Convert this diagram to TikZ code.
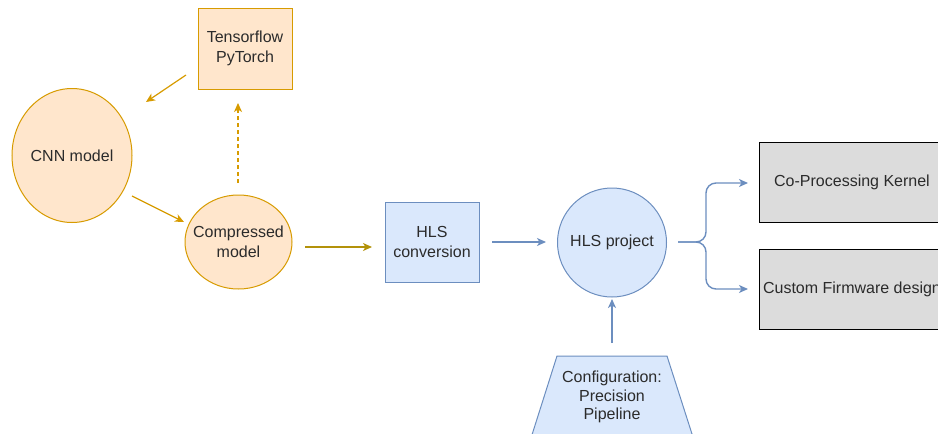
\documentclass[tikz,border=0pt]{standalone}
\usepackage{fontspec}
\setmainfont{Liberation Sans}
\usetikzlibrary{arrows.meta,shapes.geometric}
\definecolor{orfill}{HTML}{FFE6CC}
\definecolor{orline}{HTML}{D79B00}
\definecolor{olive}{HTML}{B3920A}
\definecolor{blfill}{HTML}{DAE8FC}
\definecolor{blline}{HTML}{6C8EBF}
\definecolor{gyfill}{HTML}{DCDCDC}
\definecolor{txt}{HTML}{2B2B2B}
\tikzset{
  lbl/.style={text=txt, font=\fontsize{16}{19.5}\selectfont, align=center, inner sep=0pt},
  orbox/.style={lbl, draw=orline, fill=orfill, line width=1pt},
  blbox/.style={lbl, draw=blline, fill=blfill, line width=1pt},
  gybox/.style={lbl, draw=black, fill=gyfill, line width=1pt},
  tip/.style={-{Stealth[length=9pt,width=8pt,inset=2.5pt]}},
  orarr/.style={tip, draw=orline, line width=1.2pt},
  olarr/.style={tip, draw=olive, line width=1.4pt},
  blarr/.style={tip, draw=blline, line width=1.4pt},
}
\begin{document}
\begin{tikzpicture}[x=1pt,y=-1pt]
\useasboundingbox (0,0) rectangle (938,434);
\clip (0,0) rectangle (938,434);

% framework / model nodes (ellipse outlines sized directly, labels laid on top)
\node[orbox, rectangle, minimum width=94pt, minimum height=81pt] (tf) at (245,48.5) {Tensorflow\\PyTorch};
\node[orbox, ellipse, minimum width=120pt, minimum height=134pt] (cnn) at (72,155.5) {};
\node[lbl] (cnnt) at (cnn.center) {CNN model};
\node[orbox, ellipse, minimum width=107pt, minimum height=94pt] (cmp) at (238.5,242) {};
\node[lbl] (cmpt) at (cmp.center) {Compressed\\model};

% HLS flow nodes
\node[blbox, rectangle, minimum width=94pt, minimum height=80pt] (conv) at (432,242) {HLS\\conversion};
\node[blbox, circle, minimum size=109pt] (proj) at (612,242.5) {};
\node[lbl] (projt) at (612,242) {HLS project};

% configuration trapezium (runs off the bottom edge)
\draw[draw=blline, fill=blfill, line width=1pt] (557,356) -- (667,356) -- (692,434) -- (700,460) -- (524,460) -- cycle;
\node[lbl, font=\fontsize{16}{18.7}\selectfont] (cfg) at (612,397) {Configuration:\\Precision\\Pipeline};

% output targets (run off the right edge)
\node[gybox, rectangle, minimum width=186pt, minimum height=80pt] (kern) at (852,182) {Co-Processing Kernel};
\node[gybox, rectangle, minimum width=186pt, minimum height=80pt] (fw) at (852,289) {Custom Firmware design};

% arrow end points
\coordinate (a1s) at (186,75);   \coordinate (a1e) at (146,102);
\coordinate (a2s) at (132,196);  \coordinate (a2e) at (184,222);
\coordinate (a3s) at (238,183);  \coordinate (a3e) at (238,103);
\coordinate (a4s) at (305,247);  \coordinate (a4e) at (372,247);
\coordinate (a5s) at (492,242);  \coordinate (a5e) at (546,242);
\coordinate (a6s) at (612,343);  \coordinate (a6e) at (612,299);
\coordinate (br)  at (678,242);
\coordinate (k1)  at (748,183);
\coordinate (f1)  at (748,289);

\draw[orarr] (a1s) -- (a1e);
\draw[orarr] (a2s) -- (a2e);
\draw[orarr, dashed, dash pattern=on 4pt off 3pt] (a3s) -- (a3e);
\draw[olarr] (a4s) -- (a4e);
\draw[blarr] (a5s) -- (a5e);
\draw[blarr] (a6s) -- (a6e);
\draw[blarr, rounded corners=10pt] (br) -- (706,242) -- (706,183) -- (k1);
\draw[blarr, rounded corners=10pt] (br) -- (706,242) -- (706,289) -- (f1);
\end{tikzpicture}
\end{document}
